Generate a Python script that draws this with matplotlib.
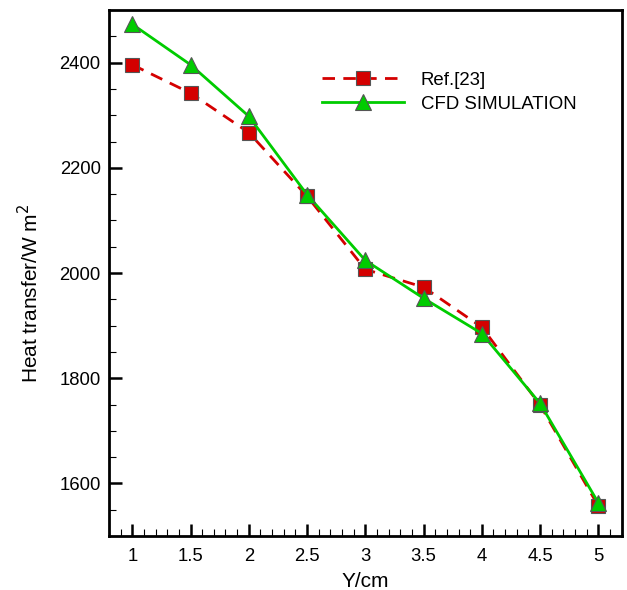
import matplotlib.pyplot as plt
from matplotlib.ticker import MultipleLocator

plt.rcParams['font.family'] = ['Liberation Sans', 'DejaVu Sans']

# distance along the wall (cm)
y_cm = [1, 1.5, 2, 2.5, 3, 3.5, 4, 4.5, 5]
# heat transfer from reference [23] and from the CFD run
ref23 = [2396, 2342, 2267, 2146, 2007, 1973, 1897, 1749, 1557]
cfd = [2473, 2396, 2298, 2149, 2024, 1952, 1885, 1752, 1563]

fig = plt.figure(figsize=(6.27, 5.90), dpi=100)
ax = fig.add_axes([0.1738, 0.0915, 0.8177, 0.8915])

ax.plot(y_cm, ref23, color='#d40000', lw=2, linestyle=(0, (4.5, 3)),
        marker='s', markersize=10, markerfacecolor='#d40000',
        markeredgecolor='#555555', markeredgewidth=0.8, label='Ref.[23]')
ax.plot(y_cm, cfd, color='#00cc00', lw=2, linestyle='-',
        marker='^', markersize=12, markerfacecolor='#00cc00',
        markeredgecolor='#555555', markeredgewidth=0.8, label='CFD SIMULATION')

ax.set_xlim(0.8, 5.2)
ax.set_ylim(1500, 2500)
ax.xaxis.set_major_locator(MultipleLocator(0.5))
ax.xaxis.set_minor_locator(MultipleLocator(0.1))
ax.yaxis.set_major_locator(MultipleLocator(200))
ax.yaxis.set_minor_locator(MultipleLocator(50))
ax.xaxis.set_major_formatter(plt.FuncFormatter(lambda v, p: f'{v:g}'))
ax.tick_params(which='major', direction='in', length=9, width=1.8, labelsize=13.3, pad=6)
ax.tick_params(axis='x', which='major', pad=8.5)
ax.tick_params(which='minor', direction='in', length=5, width=0.8)
for s in ax.spines.values():
    s.set_linewidth(2)

ax.set_xlabel('Y/cm', fontsize=15, labelpad=5)
ax.set_ylabel('Heat transfer/W m$^2$', fontsize=15)
ax.yaxis.set_label_coords(-0.13, 0.462)

ax.legend(loc='upper left', bbox_to_anchor=(0.383, 0.915), frameon=False,
          fontsize=13.4, handlelength=4.4, handletextpad=0.9, labelspacing=0.4)

fig.savefig('out.png', dpi=100)
